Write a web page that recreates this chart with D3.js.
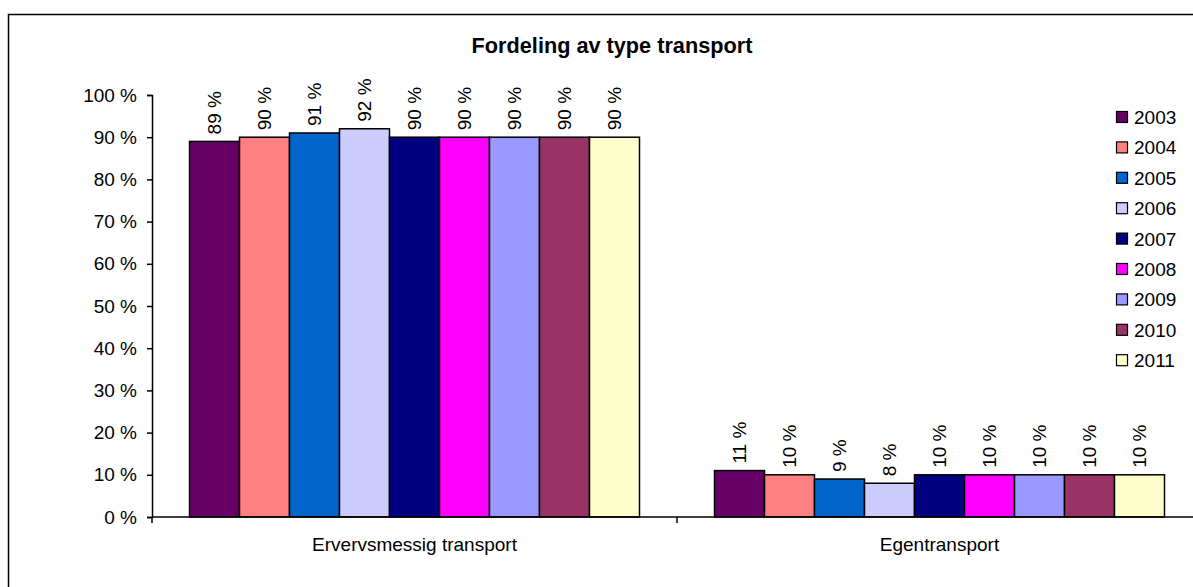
<!DOCTYPE html>
<html>
<head>
<meta charset="utf-8">
<script src="https://cdn.jsdelivr.net/npm/d3@7"></script>
<style>
  html, body { margin: 0; padding: 0; background: #fff; }
  svg { display: block; font-family: "Liberation Sans", Arial, sans-serif; }
</style>
</head>
<body>
<svg id="chart" width="1193" height="587"></svg>
<script>
// Transport type shares per year (%)
const categories = ["Ervervsmessig transport", "Egentransport"];
const years = ["2003", "2004", "2005", "2006", "2007", "2008", "2009", "2010", "2011"];
const ervervsmessig = [89, 90, 91, 92, 90, 90, 90, 90, 90];
const egentransport = [11, 10, 9, 8, 10, 10, 10, 10, 10];
const yTicks = [0, 10, 20, 30, 40, 50, 60, 70, 80, 90, 100];
const colors = ["#660066", "#FF8080", "#0066CC", "#CCCCFF", "#000080", "#FF00FF", "#9999FF", "#993366", "#FFFFCC"];
const title = "Fordeling av type transport";

const seriesByCategory = [ervervsmessig, egentransport];

const svg = d3.select("#chart");

// chart frame
svg.append("rect")
  .attr("x", 8.5).attr("y", 14.5)
  .attr("width", 1300).attr("height", 700)
  .attr("fill", "#fff").attr("stroke", "#000").attr("stroke-width", 1.5);

const plot = { left: 152, right: 1202, top: 95, bottom: 517 };

const y = d3.scaleLinear().domain([0, 100]).range([plot.bottom, plot.top]);
const x0 = d3.scaleBand().domain(categories).range([plot.left, plot.right]).padding(0);
const x1 = d3.scaleBand().domain(years).range([0, x0.bandwidth()])
  .paddingInner(0).paddingOuter(0.75);
const color = d3.scaleOrdinal().domain(years).range(colors);

// title
svg.append("text")
  .attr("x", 612).attr("y", 53)
  .attr("text-anchor", "middle")
  .attr("font-size", 21.7).attr("font-weight", "bold")
  .attr("fill", "#000")
  .text(title);

// y axis
const yAxis = svg.append("g")
  .attr("transform", `translate(${plot.left},0)`)
  .call(d3.axisLeft(y).tickValues(yTicks).tickFormat(d => d + " %").tickSize(5).tickPadding(10));
yAxis.select(".domain").attr("stroke", "#000").attr("stroke-width", 1.5);
yAxis.selectAll(".tick line").attr("stroke", "#000").attr("stroke-width", 1.5);
yAxis.selectAll(".tick text")
  .attr("font-size", 19).attr("fill", "#000")
  .attr("font-family", "Liberation Sans, Arial, sans-serif");

// bars
const groups = svg.append("g").selectAll("g")
  .data(categories)
  .join("g")
  .attr("transform", d => `translate(${x0(d)},0)`);

groups.each(function(cat, ci) {
  const vals = seriesByCategory[ci];
  const g = d3.select(this);
  g.selectAll("rect")
    .data(years.map((yr, i) => ({ yr, v: vals[i] })))
    .join("rect")
    .attr("x", d => x1(d.yr))
    .attr("y", d => y(d.v))
    .attr("width", x1.bandwidth())
    .attr("height", d => y(0) - y(d.v))
    .attr("fill", d => color(d.yr))
    .attr("stroke", "#000")
    .attr("stroke-width", 1.5);

  g.selectAll("text.val")
    .data(years.map((yr, i) => ({ yr, v: vals[i] })))
    .join("text")
    .attr("class", "val")
    .attr("transform", d => `translate(${x1(d.yr) + x1.bandwidth() / 2 + 6},${y(d.v) - 7}) rotate(-90)`)
    .attr("text-anchor", "start")
    .attr("font-size", 19)
    .attr("fill", "#000")
    .text(d => d.v + " %");
});

// x axis
const xAxis = svg.append("g")
  .attr("transform", `translate(0,${plot.bottom})`);
xAxis.append("line")
  .attr("x1", plot.left).attr("x2", plot.right)
  .attr("stroke", "#000").attr("stroke-width", 1.5);
const dividers = [plot.left].concat(categories.slice(1).map(c => x0(c)));
xAxis.selectAll("line.div")
  .data(dividers)
  .join("line")
  .attr("class", "div")
  .attr("x1", d => d).attr("x2", d => d)
  .attr("y1", 0).attr("y2", 6)
  .attr("stroke", "#000").attr("stroke-width", 1.5);
xAxis.selectAll("text")
  .data(categories)
  .join("text")
  .attr("x", d => x0(d) + x0.bandwidth() / 2)
  .attr("y", 34)
  .attr("text-anchor", "middle")
  .attr("font-size", 19)
  .attr("fill", "#000")
  .text(d => d);

// legend
const legend = svg.append("g").attr("transform", "translate(1116,111)");
const rowH = 30.4;
const items = legend.selectAll("g")
  .data(years)
  .join("g")
  .attr("transform", (d, i) => `translate(0,${i * rowH})`);
items.append("rect")
  .attr("x", 0.5).attr("y", 0.5)
  .attr("width", 11).attr("height", 11)
  .attr("fill", d => color(d))
  .attr("stroke", "#000").attr("stroke-width", 1.2);
items.append("text")
  .attr("x", 18).attr("y", 13)
  .attr("font-size", 19)
  .attr("fill", "#000")
  .text(d => d);
</script>
</body>
</html>
